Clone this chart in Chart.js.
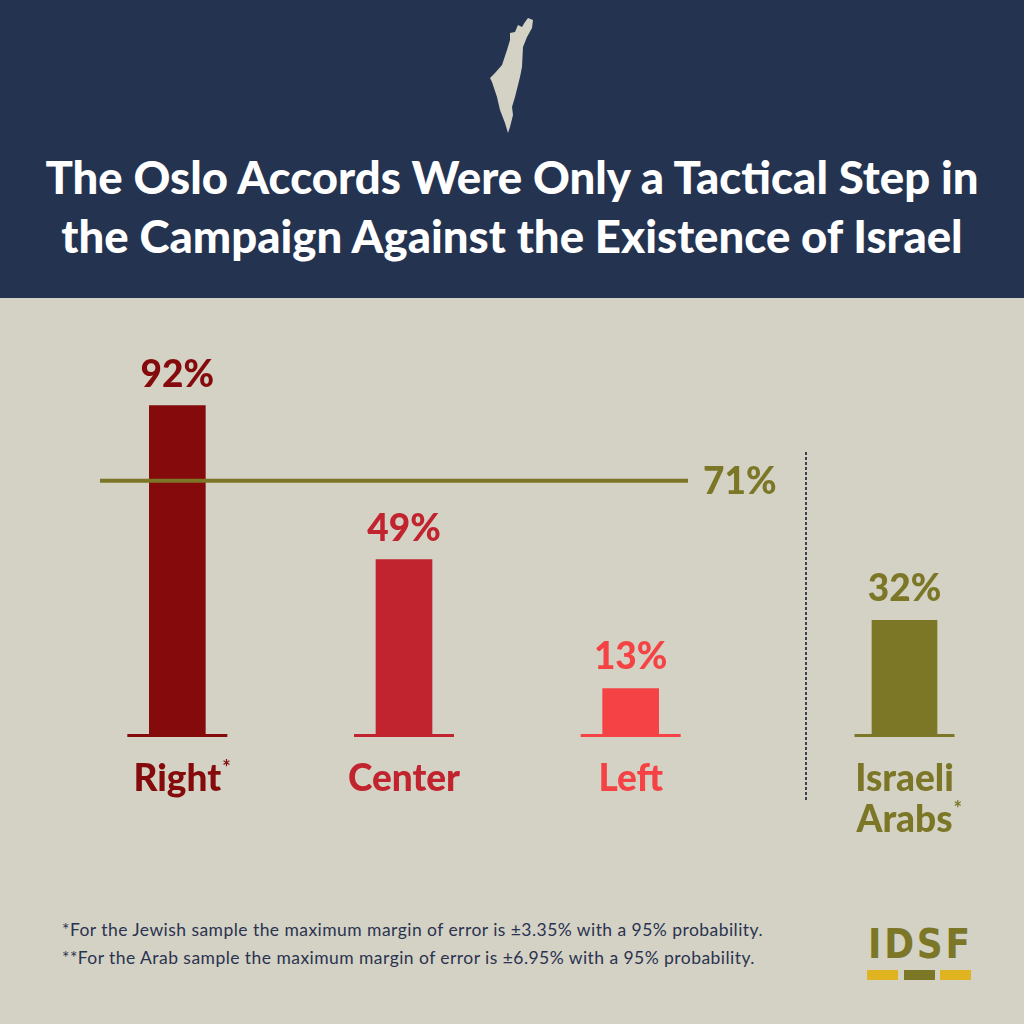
<!DOCTYPE html>
<html>
<head>
<meta charset="utf-8">
<script src="https://cdn.jsdelivr.net/npm/chart.js@4.4.1/dist/chart.umd.min.js"></script>
<style>
  html, body { margin: 0; padding: 0; }
  body { width: 1024px; height: 1024px; background: #d3d2c5; position: relative; overflow: hidden; font-family: Lato, 'Open Sans', sans-serif; }
  #header { position: absolute; left: 0; top: 0; width: 1024px; height: 298px; background: #243350; }
  #map { position: absolute; left: 0; top: 0; }
  #title { position: absolute; left: 0; top: 147px; width: 1024px; text-align: center; color: #fff; font-weight: 900; font-size: 45.5px; line-height: 59px; }
  canvas { position: absolute; top: 300px; }
  #jewishChart { left: 0; }
  #arabChart { left: 800px; }
  #notes { position: absolute; left: 62px; top: 916px; color: #2b3350; font-size: 17.5px; line-height: 28px; letter-spacing: 0.45px; }
  #logo { position: absolute; left: 867px; top: 922px; width: 104px; }
  #logo .letters { display: flex; justify-content: space-between; color: #7c7627; font-family: 'DejaVu Sans Condensed', 'DejaVu Sans', sans-serif; font-weight: 700; font-size: 40px; line-height: 44px; padding: 0 1px; }
  #logo .bars { display: flex; justify-content: space-between; margin-top: 4px; }
  #logo .bars span { display: block; width: 31px; height: 10px; }
</style>
</head>
<body>
<div id="header">
  <svg id="map" width="1024" height="150">
    <polygon fill="#d3d2c5" points="528,18 533,20 532,28 527,37 523,47 522,67 520,77 515,97 512,107 513,115 510,127 508,133 505,123 500,110 497,97 492,82 490,78 495,73 502,65 507,50 510,40 510,33 515,32 518,25 522,27 525,22"/>
  </svg>
  <div id="title">The Oslo Accords Were Only a Tactical Step in<br>the Campaign Against the Existence of Israel</div>
</div>

<canvas id="jewishChart" width="800" height="600"></canvas>
<canvas id="arabChart" width="224" height="600"></canvas>

<div id="notes"></div>
<div id="logo">
  <div class="letters"><span>I</span><span>D</span><span>S</span><span>F</span></div>
  <div class="bars"><span style="background:#e0b321"></span><span style="background:#7c7627"></span><span style="background:#e0b321"></span></div>
</div>

<script>
// Jewish sample, by political camp
const jewishCategories = ['Right', 'Center', 'Left'];
const jewishValues = [92, 49, 13];
const jewishMarks = ['*', '', ''];
const jewishColors = ['#850a0c', '#c1242f', '#f54244'];

// Jewish average line
const jewishAverage = [71];

// Arab sample
const arabCategories = [['Israeli', 'Arabs']];
const arabValues = [32];
const arabMarks = ['*'];
const arabColors = ['#7c7627'];

const footnotes = [
  '*For the Jewish sample the maximum margin of error is \u00b13.35% with a 95% probability.',
  '**For the Arab sample the maximum margin of error is \u00b16.95% with a 95% probability.'
];

document.getElementById('notes').innerHTML = footnotes.map(t => '<div>' + t + '</div>').join('');

const FONT = "Lato, 'Open Sans', sans-serif";

// value labels, baselines and category names for each bar
const barDecorations = {
  id: 'barDecorations',
  afterDatasetsDraw(chart) {
    const ctx = chart.ctx;
    const ds = chart.data.datasets[0];
    const meta = chart.getDatasetMeta(0);
    const base = chart.scales.y.getPixelForValue(0);
    const marks = chart.options.plugins.barDecorations.marks;
    ctx.save();
    meta.data.forEach((bar, i) => {
      const color = ds.backgroundColor[i];
      ctx.fillStyle = color;
      ctx.fillRect(bar.x - 50, base - 1, 100, 3);

      ctx.font = '900 37px ' + FONT;
      ctx.textAlign = 'center';
      ctx.textBaseline = 'alphabetic';
      ctx.fillText(ds.data[i] + '%', bar.x, bar.y - 19);

      const label = chart.data.labels[i];
      const lines = Array.isArray(label) ? label : [label];
      lines.forEach((line, j) => {
        const y = base + 56 + j * 41;
        ctx.font = '900 37px ' + FONT;
        ctx.textAlign = 'center';
        ctx.fillText(line, bar.x, y);
        if (j === lines.length - 1 && marks[i]) {
          const w = ctx.measureText(line).width;
          ctx.font = 'bold 20px ' + FONT;
          ctx.textAlign = 'left';
          ctx.fillText(marks[i], bar.x + w / 2 + 1, y - 16);
        }
      });
    });
    ctx.restore();
  }
};

// the 71% line across the Jewish bars
const averageLine = {
  id: 'averageLine',
  afterDatasetsDraw(chart) {
    const opts = chart.options.plugins.averageLine;
    if (!opts.value) return;
    const ctx = chart.ctx;
    const y = chart.scales.y.getPixelForValue(opts.value);
    const area = chart.chartArea;
    ctx.save();
    ctx.strokeStyle = opts.color;
    ctx.lineWidth = 4;
    ctx.beginPath();
    ctx.moveTo(area.left + 36, y);
    ctx.lineTo(area.right - 56, y);
    ctx.stroke();
    ctx.fillStyle = opts.color;
    ctx.font = '900 37px ' + FONT;
    ctx.textAlign = 'left';
    ctx.textBaseline = 'middle';
    ctx.fillText(opts.value + '%', area.right - 41, y + 1);
    ctx.restore();
  }
};

// dotted divider between the two samples
const divider = {
  id: 'divider',
  beforeDatasetsDraw(chart) {
    if (!chart.options.plugins.divider.show) return;
    const ctx = chart.ctx;
    const yScale = chart.scales.y;
    const x = chart.chartArea.left + 2;
    ctx.save();
    ctx.strokeStyle = '#3c4150';
    ctx.lineWidth = 2;
    ctx.setLineDash([3, 2]);
    ctx.beginPath();
    ctx.moveTo(x, yScale.getPixelForValue(100) + 75);
    ctx.lineTo(x, yScale.getPixelForValue(0) + 67);
    ctx.stroke();
    ctx.restore();
  }
};

function makeChart(id, labels, values, colors, marks, thickness, padding, average, showDivider) {
  return new Chart(document.getElementById(id), {
    type: 'bar',
    data: {
      labels: labels,
      datasets: [{
        data: values,
        backgroundColor: colors,
        barThickness: thickness,
        borderWidth: 0
      }]
    },
    options: {
      responsive: false,
      animation: false,
      layout: { padding: padding },
      scales: {
        x: { display: false },
        y: { display: false, min: 0, max: 100 }
      },
      plugins: {
        legend: { display: false },
        tooltip: { enabled: false },
        barDecorations: { marks: marks },
        averageLine: { value: average, color: '#7c7627' },
        divider: { show: showDivider }
      }
    },
    plugins: [divider, averageLine, barDecorations]
  });
}

makeChart('jewishChart', jewishCategories, jewishValues, jewishColors, jewishMarks, 56,
  { top: 77, bottom: 165, left: 64, right: 56 }, jewishAverage[0], false);
makeChart('arabChart', arabCategories, arabValues, arabColors, arabMarks, 65,
  { top: 77, bottom: 165, left: 4, right: 19 }, null, true);
</script>
</body>
</html>
